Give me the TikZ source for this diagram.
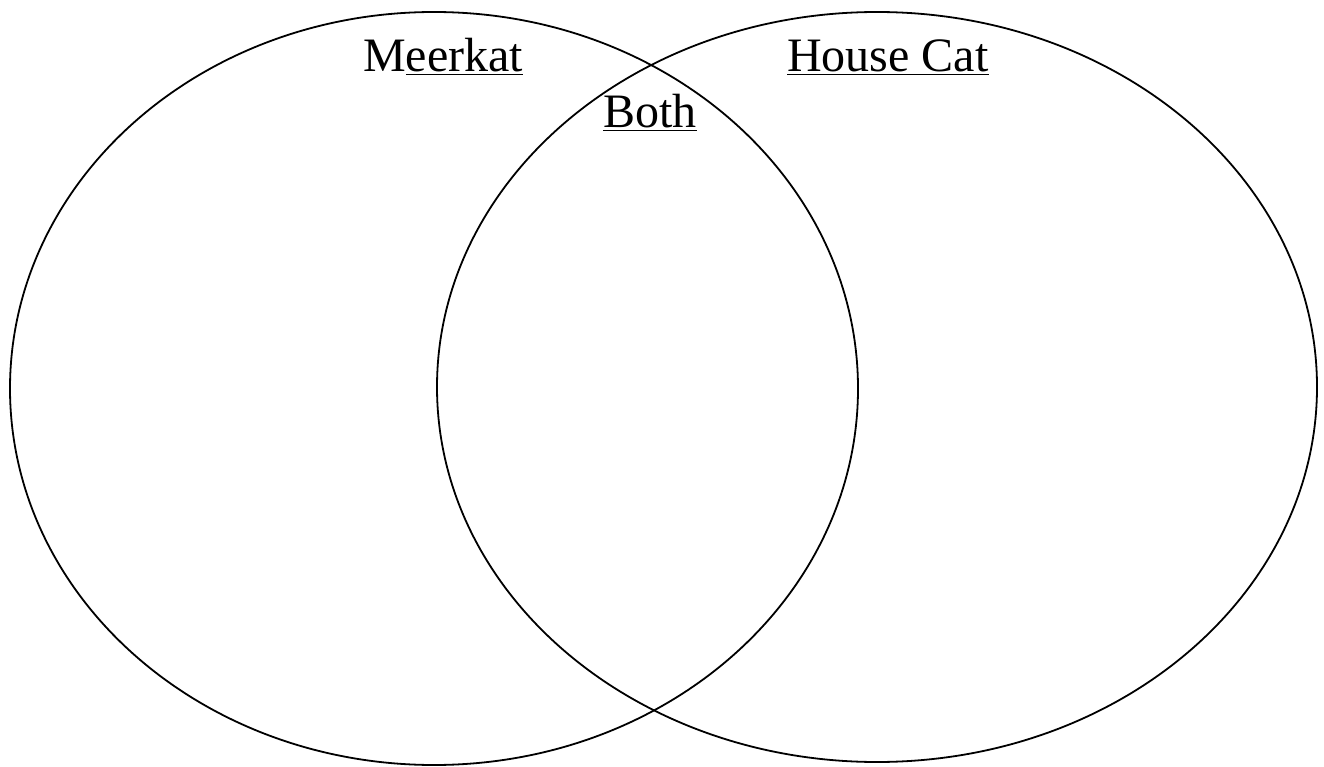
\documentclass[tikz,border=0pt]{standalone}
\usepackage{fontspec}
\setmainfont{Liberation Serif}
\usepackage{tikz}
\tikzset{
  set/.style={draw,line width=1.8pt},
  lbl/.style={anchor=base west,inner sep=0pt,font=\fontsize{48}{57}\selectfont},
}

\begin{document}
\begin{tikzpicture}[x=1pt,y=-1pt]
\useasboundingbox (0,0) rectangle (1324,767);
\draw[set] (434,388.5) ellipse [x radius=424, y radius=376.5];
\draw[set] (877,387) ellipse [x radius=440, y radius=375];
\node[lbl] (meerkat) at (363,72) {M\underline{eerkat}};
\node[lbl] (both) at (603,128) {\underline{Both}};
\node[lbl] (housecat) at (787,72) {\underline{House Cat}};
\end{tikzpicture}
\end{document}
